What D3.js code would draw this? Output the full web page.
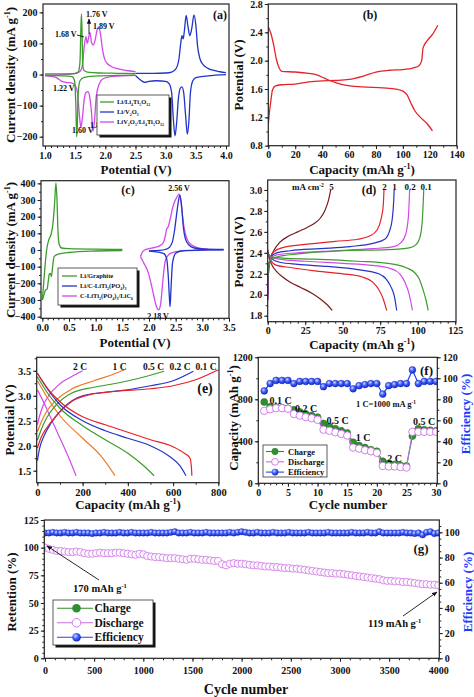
<!DOCTYPE html>
<html><head><meta charset="utf-8">
<script src="https://cdn.jsdelivr.net/npm/d3@7"></script>
<style>
body{margin:0;background:#fff}
text{font-family:'Liberation Serif','Times New Roman',serif;font-weight:bold;fill:#111}
</style></head>
<body><svg id="c" width="474" height="697"></svg>
<script>
// ---------------- DATA ----------------
// (a) CV curves [potential V, current mA/g]
const aGreenUp=[[1.0,2],[1.3,2],[1.5,3],[1.55,8],[1.58,40],[1.595,150],[1.605,195],[1.615,130],[1.625,40],[1.64,15],[1.7,8],[1.9,5],[2.2,4],[2.5,3]];
const aGreenDn=[[1.0,-3],[1.3,-4],[1.45,-7],[1.49,-20],[1.51,-90],[1.525,-200],[1.535,-170],[1.55,-60],[1.58,-20],[1.65,-9],[1.8,-5],[2.2,-3],[2.5,-2]];
const aMagUp=[[1.0,-2],[1.3,0],[1.5,4],[1.58,10],[1.62,30],[1.65,90],[1.68,122],[1.70,100],[1.72,115],[1.745,135],[1.77,104],[1.8,95],[1.83,110],[1.86,140],[1.89,153],[1.92,130],[1.95,85],[1.98,55],[2.02,38],[2.1,26],[2.2,19],[2.35,13],[2.5,9]];
const aMagDn=[[1.0,-4],[1.1,-6],[1.18,-9],[1.22,-14],[1.27,-21],[1.35,-25],[1.45,-28],[1.5,-35],[1.54,-60],[1.57,-130],[1.595,-170],[1.62,-140],[1.65,-80],[1.68,-58],[1.71,-55],[1.74,-70],[1.77,-120],[1.795,-182],[1.82,-150],[1.85,-70],[1.9,-30],[1.95,-15],[2.05,-8],[2.3,-4],[2.5,-3]];
const aBlueUp=[[2.5,4],[2.8,4],[3.0,5],[3.1,8],[3.17,18],[3.22,50],[3.25,100],[3.27,125],[3.29,115],[3.31,140],[3.34,190],[3.37,155],[3.40,125],[3.43,145],[3.47,192],[3.5,160],[3.53,90],[3.57,50],[3.62,32],[3.7,20],[3.8,13],[3.9,9],[4.0,6]];
const aBlueDn=[[2.5,-3],[2.55,-12],[2.6,-20],[2.65,-25],[2.72,-22],[2.85,-20],[3.0,-22],[3.06,-30],[3.1,-60],[3.13,-150],[3.155,-197],[3.18,-160],[3.21,-80],[3.24,-45],[3.27,-40],[3.3,-60],[3.33,-130],[3.36,-192],[3.385,-150],[3.41,-60],[3.45,-20],[3.5,-10],[3.7,-4],[4.0,0]];
const aXTicks=[1.0,1.5,2.0,2.5,3.0,3.5,4.0], aYTicks=[-200,-100,0,100,200];
// (b) charge/discharge [capacity, potential]
const bDis=[[0,2.48],[2,2.38],[4,2.22],[6,2.02],[8,1.9],[10,1.85],[20,1.84],[30,1.82],[36,1.8],[42,1.75],[50,1.69],[58,1.65],[70,1.63],[85,1.615],[95,1.6],[100,1.57],[103,1.52],[106,1.4],[109,1.29],[113,1.2],[118,1.11],[122,1.01]];
const bCh=[[0,1.1],[1,1.3],[2,1.45],[3,1.58],[5,1.64],[10,1.66],[20,1.67],[30,1.7],[40,1.715],[50,1.72],[60,1.735],[70,1.78],[80,1.84],[90,1.865],[100,1.875],[108,1.9],[112,1.93],[114,2.0],[115,2.18],[118,2.28],[122,2.37],[126,2.5]];
const bXTicks=[0,20,40,60,80,100,120,140], bYTicks=[0.8,1.2,1.6,2.0,2.4,2.8];
// (c) CV curves
const cGreenUp=[[0.0,-300],[0.02,-220],[0.05,-100],[0.08,0],[0.12,60],[0.16,90],[0.2,160],[0.23,280],[0.255,403],[0.275,300],[0.295,100],[0.32,30],[0.36,12],[0.5,8],[1.0,5],[1.5,4]];
const cGreenDn=[[0.0,-300],[0.03,-270],[0.06,-240],[0.09,-235],[0.11,-190],[0.13,-145],[0.15,-140],[0.17,-160],[0.19,-110],[0.22,-40],[0.3,-25],[0.5,-15],[1.0,-6],[1.5,-3]];
const cBlueUp=[[2.0,-5],[2.2,-2],[2.3,3],[2.38,15],[2.44,50],[2.48,120],[2.52,220],[2.555,300],[2.58,330],[2.61,270],[2.64,150],[2.68,70],[2.75,30],[2.85,12],[3.0,6],[3.4,3]];
const cBlueDn=[[2.0,-6],[2.1,-10],[2.2,-14],[2.28,-22],[2.33,-50],[2.36,-150],[2.385,-300],[2.395,-340],[2.41,-250],[2.44,-80],[2.5,-20],[2.6,-6],[2.8,-2],[3.0,0],[3.4,1]];
const cMagUp=[[1.84,-40],[1.87,-15],[1.92,0],[2.0,8],[2.1,15],[2.2,25],[2.27,45],[2.31,90],[2.33,125],[2.36,140],[2.4,190],[2.44,250],[2.48,290],[2.52,315],[2.56,336],[2.59,310],[2.62,230],[2.66,130],[2.72,60],[2.8,30],[2.9,15],[3.0,8],[3.1,5]];
const cMagDn=[[1.84,-40],[1.88,-65],[1.93,-95],[1.98,-130],[2.03,-190],[2.08,-260],[2.13,-330],[2.18,-360],[2.22,-320],[2.25,-220],[2.28,-120],[2.31,-60],[2.35,-35],[2.4,-20],[2.5,-10],[2.7,-4],[3.0,0],[3.1,2]];
const cXTicks=[0.0,0.5,1.0,1.5,2.0,2.5,3.0,3.5], cYTicks=[-400,-300,-200,-100,0,100,200,300,400];
// (d) rate curves [capacity, potential]
const dRates=["5","2","1","0.2","0.1"];
const d5Ch=[[0,2.0],[0.5,2.2],[1.5,2.33],[4,2.42],[8,2.5],[14,2.56],[20,2.6],[26,2.64],[31,2.68],[35,2.73],[38,2.8],[40.5,2.9],[42,3.0]];
const d5Dis=[[0,2.43],[1,2.35],[3,2.28],[6,2.22],[10,2.17],[15,2.12],[22,2.07],[30,2.01],[36,1.95],[40,1.9],[43,1.85]];
const d2Ch=[[0,1.95],[0.5,2.2],[1.5,2.33],[4,2.41],[10,2.45],[25,2.48],[45,2.51],[60,2.53],[68,2.56],[73,2.62],[75.5,2.72],[77,2.85],[77.5,3.0]];
const d2Dis=[[0,2.4],[2,2.33],[6,2.28],[15,2.26],[30,2.23],[50,2.2],[63,2.17],[70,2.12],[74,2.05],[77,1.96],[79.3,1.85]];
const d1Ch=[[0,1.95],[0.5,2.25],[2,2.36],[6,2.4],[15,2.42],[35,2.44],[55,2.46],[70,2.49],[78,2.53],[81,2.6],[83,2.72],[84,2.9],[84.3,3.0]];
const d1Dis=[[0,2.4],[2,2.35],[8,2.31],[20,2.29],[40,2.27],[60,2.24],[74,2.2],[79,2.15],[82,2.08],[84.5,1.98],[86,1.85]];
const d02Ch=[[0,2.0],[0.5,2.25],[2,2.35],[6,2.38],[20,2.4],[45,2.42],[70,2.44],[84,2.46],[89,2.5],[92,2.58],[93.8,2.75],[94.6,3.0]];
const d02Dis=[[0,2.4],[2,2.36],[8,2.34],[25,2.32],[50,2.3],[70,2.28],[82,2.25],[88,2.2],[91.5,2.12],[94,2.02],[96.5,1.85]];
const d01Ch=[[0,2.1],[0.5,2.28],[2,2.33],[6,2.36],[20,2.39],[50,2.42],[80,2.43],[95,2.45],[99,2.48],[101.5,2.55],[103,2.7],[104,3.0]];
const d01Dis=[[0,2.4],[3,2.36],[10,2.35],[30,2.34],[60,2.32],[80,2.3],[92,2.26],[98,2.21],[101,2.15],[103.5,2.05],[105.5,1.95],[107,1.85]];
const dXTicks=[0,25,50,75,100,125], dYTicks=[1.8,2.0,2.2,2.4,2.6,2.8,3.0];
// (e) rate curves
const eRates=["2 C","1 C","0.5 C","0.2 C","0.1 C"];
const e2Ch=[[0,2.42],[10,2.6],[25,2.8],[50,3.0],[100,3.24],[150,3.38],[200,3.5]];
const e2Dis=[[0,3.12],[30,2.85],[60,2.55],[100,2.15],[135,1.8],[171,1.4]];
const e1Ch=[[0,2.28],[15,2.45],[40,2.68],[80,2.9],[150,3.13],[250,3.3],[330,3.42],[385,3.52]];
const e1Dis=[[0,3.3],[50,2.92],[100,2.6],[200,2.15],[280,1.8],[343,1.4]];
const e05Ch=[[0,2.11],[15,2.3],[40,2.55],[80,2.8],[150,3.05],[250,3.17],[350,3.25],[450,3.35],[560,3.49]];
const e05Dis=[[0,3.38],[50,3.02],[100,2.75],[200,2.4],[300,2.12],[400,1.85],[470,1.6],[516,1.4]];
const e02Ch=[[0,1.7],[10,1.95],[30,2.2],[60,2.45],[120,2.78],[200,3.0],[300,3.07],[400,3.12],[500,3.2],[600,3.3],[690,3.49]];
const e02Dis=[[0,3.45],[50,3.1],[100,2.82],[200,2.5],[300,2.3],[400,2.15],[500,2.0],[580,1.8],[630,1.6],[657,1.4]];
const e01Ch=[[0,1.95],[15,2.15],[40,2.35],[80,2.58],[150,2.88],[250,3.04],[350,3.09],[500,3.14],[600,3.2],[700,3.32],[800,3.52]];
const e01Dis=[[0,3.45],[50,3.12],[100,2.88],[200,2.58],[300,2.42],[400,2.27],[500,2.12],[600,1.98],[650,1.85],[675,1.75],[680,1.62],[682,1.5],[683,1.4]];
const eXTicks=[0,200,400,600,800], eYTicks=[1.5,2.0,2.5,3.0,3.5];
// (f) rate capability
const fCycle=[1,2,3,4,5,6,7,8,9,10,11,12,13,14,15,16,17,18,19,20,21,22,23,24,25,26,27,28,29,30];
const fCharge=[775,730,725,720,715,700,680,660,645,630,570,540,520,500,480,390,360,340,320,305,210,190,180,170,165,450,520,510,505,500];
const fDischarge=[690,705,715,715,710,660,645,630,620,605,510,500,485,470,455,340,330,315,305,290,165,160,160,155,150,490,490,490,490,490];
const fEff=[88,95,98,98,98,95,97,97,97,97,92,95,95,95,95,90,93,94,95,95,85,93,94,95,95,108,95,97,97,97];
const fXTicks=[0,5,10,15,20,25,30], fYTicks=[0,400,800,1200], fY2Ticks=[0,20,40,60,80,100,120];
// (g) long cycling
const gCycle=[0,40,80,120,160,200,240,280,320,360,400,440,480,520,560,600,640,680,720,760,800,840,880,920,960,1000,1040,1080,1120,1160,1200,1240,1280,1320,1360,1400,1440,1480,1520,1560,1600,1640,1680,1720,1760,1800,1840,1880,1920,1960,2000,2040,2080,2120,2160,2200,2240,2280,2320,2360,2400,2440,2480,2520,2560,2600,2640,2680,2720,2760,2800,2840,2880,2920,2960,3000,3040,3080,3120,3160,3200,3240,3280,3320,3360,3400,3440,3480,3520,3560,3600,3640,3680,3720,3760,3800,3840,3880,3920,3960,4000];
const gRetention=[100,99,98,97,97,96.5,96,96,96.5,96,95,94.5,94.5,95,95.5,95,95,95,95.5,95.5,95,94.5,94,93.5,94.5,94,92.5,92,91.5,91.5,91,90.5,90.5,90.5,90,89.5,89,90,90,89.5,89,89,88.5,88,88,85,84,85.5,86,85.5,85.5,85,84.5,84,84,83.5,83,83,82.5,82.5,82,81.5,81.5,81,81,80.5,80,79.5,79,78.5,78,77.5,77,77,76.5,76.5,76,75.5,75,74.5,74,73.5,73,72.5,72,71.5,70.5,70,70,69.5,69.5,69,69,68.5,68,67.5,67,67,66.5,66.5,66];
const gEff=[99.5,99.5,100,99.5,99.5,100,99.5,99.5,100,99.5,99.5,99.5,99,99.5,99.5,100,99.5,99.5,99.5,100,99.5,99.5,100,99.5,99.5,99.5,99.5,100,99.5,99.5,99.5,99.5,100,100.5,99.5,99.5,99.5,100,99.5,99.5,99.5,100,99.5,99.5,99.5,99.5,99.5,100,99.5,100,100.5,100,99.5,99.5,100,99.5,99.5,99.5,100,99.5,99.5,99.5,100,99.5,99.5,99.5,99.5,100,99.5,99.5,99.5,99.5,100,99.5,99.5,99.5,99.5,99.5,100,99.5,99.5,99.5,100,99.5,99.5,100.5,99.5,99.5,99.5,99.5,99.5,100,99.5,99.5,99,99.5,98,100,100.5,99,99.5];
const gXTicks=[0,500,1000,1500,2000,2500,3000,3500,4000], gYTicks=[0,25,50,75,100,125], gY2Ticks=[0,20,40,60,80,100];

// ---------------- COLOURS ----------------
const GREEN='#3c9c2c', BLUE='#2234c8', MAG='#d348ea', RED='#e5222a', DRED='#7a1c1c', ORANGE='#f07a22';

// ---------------- HELPERS ----------------
const svg=d3.select('#c');
const defs=svg.append('defs');
const rg=defs.append('radialGradient').attr('id','effG').attr('cx','38%').attr('cy','35%').attr('r','65%');
rg.append('stop').attr('offset','0%').attr('stop-color','#d0dcff');
rg.append('stop').attr('offset','45%').attr('stop-color','#4a66ff');
rg.append('stop').attr('offset','100%').attr('stop-color','#1126c0');
defs.append('marker').attr('id','arr').attr('viewBox','0 0 10 10').attr('refX',9).attr('refY',5)
  .attr('markerWidth',6).attr('markerHeight',6).attr('orient','auto-start-reverse')
  .append('path').attr('d','M0,1L10,5L0,9z').attr('fill','#111');

function rich(t,parts,fs){
  let shift=0;
  parts.forEach(p=>{
    const [s,k]=Array.isArray(p)?p:[p,null];
    const target=k==='sup'?-0.38*fs:k==='sub'?0.28*fs:0;
    const ts=t.append('tspan').text(s).attr('dy',target-shift);
    if(k) ts.attr('font-size',fs*0.62);
    shift=target;
  });
  return t;
}
function label(x,y,parts,fs,opt={}){
  const t=svg.append('text').attr('font-size',fs).attr('text-anchor',opt.anchor||'start');
  if(opt.rot) t.attr('transform',`translate(${x},${y}) rotate(-90)`); else t.attr('x',x).attr('y',y);
  if(opt.fill) t.style('fill',opt.fill);
  rich(t,parts,fs);
  if(opt.fill) t.selectAll('tspan').style('fill',opt.fill);
  return t;
}
function axis(g,orient,scale,major,minor,fmt,pos,fs,pad){
  const A={bottom:d3.axisBottom,left:d3.axisLeft,right:d3.axisRight}[orient];
  const tr=orient==='bottom'?`translate(0,${pos})`:`translate(${pos},0)`;
  if(minor){const m=g.append('g').attr('transform',tr).call(A(scale).tickValues(minor).tickSize(2).tickFormat(''));
    m.select('.domain').remove(); m.selectAll('line').attr('stroke','#222');}
  const a=g.append('g').attr('transform',tr).call(A(scale).tickValues(major).tickSize(3.5).tickPadding(pad||2).tickFormat(fmt));
  a.select('.domain').remove();
  a.attr('font-family',null).attr('font-size',null);
  a.selectAll('text').attr('font-size',fs);
  a.selectAll('line').attr('stroke','#222');
}
function minorTicks(d,step){const r=[];for(let v=Math.ceil(d[0]/step-1e-9)*step;v<=d[1]+1e-9;v+=step)r.push(+v.toFixed(6));return r;}
let clipN=0;
function panel(o){
  const x=d3.scaleLinear().domain(o.xd).range([o.l,o.r]);
  const y=d3.scaleLinear().domain(o.yd).range([o.b,o.t]);
  const g=svg.append('g');
  const id='cl'+(clipN++);
  defs.append('clipPath').attr('id',id).append('rect').attr('x',o.l).attr('y',o.t).attr('width',o.r-o.l).attr('height',o.b-o.t);
  const fs=o.fs||10;
  axis(g,'bottom',x,o.xt,minorTicks(o.xd,o.xm),o.fx,o.b,fs,o.xpad);
  axis(g,'left',y,o.yt,minorTicks(o.yd,o.ym),o.fy,o.l,fs);
  let y2=null;
  if(o.y2d){y2=d3.scaleLinear().domain(o.y2d).range([o.b,o.t]);axis(g,'right',y2,o.y2t,minorTicks(o.y2d,o.y2m),d3.format('d'),o.r,fs);}
  const plot=g.append('g').attr('clip-path',`url(#${id})`);
  const finish=()=>g.append('rect').attr('x',o.l).attr('y',o.t).attr('width',o.r-o.l).attr('height',o.b-o.t)
     .attr('fill','none').attr('stroke','#222').attr('stroke-width',1.2);
  return {x,y,y2,g,plot,finish};
}
function curve(P,data,color,w=1.3,sc){
  const l=d3.line().x(d=>P.x(d[0])).y(d=>(sc||P.y)(d[1])).curve(d3.curveMonotoneX);
  P.plot.append('path').attr('d',l(data)).attr('fill','none').attr('stroke',color).attr('stroke-width',w).attr('stroke-linejoin','round');
}
function legendBox(x0,y0,x1,y1,shadow){
  if(shadow) svg.append('rect').attr('x',x0+2.5).attr('y',y0+2.5).attr('width',x1-x0).attr('height',y1-y0).attr('fill','#111');
  svg.append('rect').attr('x',x0).attr('y',y0).attr('width',x1-x0).attr('height',y1-y0).attr('fill','#fff').attr('stroke','#333').attr('stroke-width',0.8);
}
const f1=d3.format('.1f'), fd=d3.format('d');

// ---------------- (a) ----------------
const A=panel({l:43,r:229,t:4,b:146,xd:[0.967,4.05],yd:[-230,227],xt:aXTicks,xm:0.1,yt:aYTicks,ym:50,fx:f1,fy:fd});
curve(A,aBlueUp,BLUE);curve(A,aBlueDn,BLUE);
curve(A,aMagUp,MAG);curve(A,aMagDn,MAG);
curve(A,aGreenUp,GREEN);curve(A,aGreenDn,GREEN);
A.finish();
label(15,75,['Current density (mA g',['-1','sup'],')'],13,{rot:true,anchor:'middle'});
label(136,174,['Potential (V)'],13,{anchor:'middle'});
label(220,19,['(a)'],12,{anchor:'middle'});
label(86,17,['1.76 V'],8);
svg.append('line').attr('x1',89).attr('y1',34).attr('x2',89).attr('y2',19).attr('stroke','#111').attr('stroke-width',0.9).attr('marker-end','url(#arr)');
label(93,29,['1.89 V'],8);
label(55,37,['1.68 V'],8);
svg.append('line').attr('x1',77).attr('y1',35).attr('x2',84).attr('y2',37).attr('stroke','#111').attr('stroke-width',0.9);
label(53,91,['1.22 V'],8);
label(72,133,['1.60 V'],8);
label(90,128,['1.81 V'],8);
legendBox(97,95,169,135,true);
[[GREEN,['Li/Li',['4','sub'],'Ti',['5','sub'],'O',['12','sub']]],[BLUE,['Li/V',['2','sub'],'O',['5','sub']]],[MAG,['LiV',['2','sub'],'O',['5','sub'],'/Li',['4','sub'],'Ti',['5','sub'],'O',['12','sub']]]]
 .forEach((e,i)=>{const yy=102+i*10;svg.append('line').attr('x1',100).attr('x2',114).attr('y1',yy).attr('y2',yy).attr('stroke',e[0]).attr('stroke-width',1.3);
  label(117,yy+2.3,e[1],6.5);});

// ---------------- (b) ----------------
const B=panel({l:268.3,r:456.7,t:4,b:145.7,xd:[0,140],yd:[0.8,2.8],xt:bXTicks,xm:10,yt:bYTicks,ym:0.2,fx:fd,fy:f1});
curve(B,bDis,RED);curve(B,bCh,RED);
B.finish();
label(242.5,75,['Potential (V)'],13,{rot:true,anchor:'middle'});
label(362,174,['Capacity (mAh g',['-1','sup'],')'],13,{anchor:'middle'});
label(370,19,['(b)'],12,{anchor:'middle'});

// ---------------- (c) ----------------
const C=panel({l:41,r:229,t:180.7,b:318.3,xd:[-0.025,3.5],yd:[-410,416],xt:cXTicks,xm:0.1,yt:cYTicks,ym:50,fx:f1,fy:fd});
curve(C,cGreenUp,GREEN);curve(C,cGreenDn,GREEN);
curve(C,cMagUp,MAG);curve(C,cMagDn,MAG);
curve(C,cBlueUp,BLUE);curve(C,cBlueDn,BLUE);
C.finish();
label(15,250,['Current density (mA g',['-1','sup'],')'],13,{rot:true,anchor:'middle'});
label(135,347,['Potential (V)'],13,{anchor:'middle'});
label(128,194,['(c)'],12,{anchor:'middle'});
label(179,191,['2.56 V'],8,{anchor:'middle'});
label(158,318.5,['2.18 V'],8,{anchor:'middle'});
legendBox(58,268,137,305,true);
[[GREEN,['Li/Graphite']],[BLUE,['Li/C-LiTi',['2','sub'],'(PO',['4','sub'],')',['3','sub']]],[MAG,['C-LiTi',['2','sub'],'(PO',['4','sub'],')',['3','sub'],'/LiC',['6','sub']]]]
 .forEach((e,i)=>{const yy=276+i*10;svg.append('line').attr('x1',62).attr('x2',77).attr('y1',yy).attr('y2',yy).attr('stroke',e[0]).attr('stroke-width',1.3);
  label(80,yy+2.3,e[1],6.5);});

// ---------------- (d) ----------------
const D=panel({l:267.7,r:456,t:180,b:321.7,xd:[0,125.5],yd:[1.743,3.095],xt:dXTicks,xm:5,yt:dYTicks,ym:0.1,fx:fd,fy:f1});
[[d5Ch,d5Dis,DRED],[d2Ch,d2Dis,RED],[d1Ch,d1Dis,BLUE],[d02Ch,d02Dis,MAG],[d01Ch,d01Dis,GREEN]].forEach(s=>{curve(D,s[0],s[2],1.2);curve(D,s[1],s[2],1.2);});
D.finish();
label(242.5,252,['Potential (V)'],13,{rot:true,anchor:'middle'});
label(362,349,['Capacity (mAh g',['-1','sup'],')'],13,{anchor:'middle'});
label(369,194,['(d)'],12,{anchor:'middle'});
label(292,190,['mA cm',['-2','sup']],9);
[[331.5,dRates[0]],[384.5,dRates[1]],[394.5,dRates[2]],[410,dRates[3]],[426,dRates[4]]].forEach(p=>label(p[0],190,[p[1]],9,{anchor:'middle'}));

// ---------------- (e) ----------------
const E=panel({l:36.7,r:219,t:357.3,b:482.7,xd:[-3,803],yd:[1.26,3.77],xt:eXTicks,xm:100,yt:eYTicks,ym:0.25,fx:fd,fy:f1,fs:10.5});
[[e2Ch,e2Dis,MAG],[e1Ch,e1Dis,ORANGE],[e05Ch,e05Dis,GREEN],[e02Ch,e02Dis,BLUE],[e01Ch,e01Dis,RED]].forEach(s=>{curve(E,s[0],s[2],1.2);curve(E,s[1],s[2],1.2);});
E.finish();
label(14,420,['Potential (V)'],13,{rot:true,anchor:'middle'});
label(128,509,['Capacity (mAh g',['-1','sup'],')'],13,{anchor:'middle'});
label(205,393,['(e)'],14,{anchor:'middle'});
[[80,eRates[0]],[119.5,eRates[1]],[153.5,eRates[2]],[180,eRates[3]],[206,eRates[4]]].forEach(p=>label(p[0],370,[p[1]],9.5,{anchor:'middle'}));

// ---------------- (f) ----------------
const F=panel({l:258.3,r:437.3,t:357.3,b:483.3,xd:[0,30.2],yd:[0,1200],xt:fXTicks,xm:1,yt:fYTicks,ym:200,fx:fd,fy:fd,y2d:[0,120],y2t:fY2Ticks,y2m:10});
const fl=(sc,vals)=>d3.line().x((d,i)=>F.x(fCycle[i])).y(d=>sc(d))(vals);
F.plot.append('path').attr('d',fl(F.y2,fEff)).attr('fill','none').attr('stroke','#2244ee').attr('stroke-width',1.2);
F.plot.selectAll('.fe').data(fEff).enter().append('circle').attr('cx',(d,i)=>F.x(fCycle[i])).attr('cy',d=>F.y2(d)).attr('r',3.4).attr('fill','url(#effG)').attr('stroke','#1428c0').attr('stroke-width',0.5);
F.plot.append('path').attr('d',fl(F.y,fCharge)).attr('fill','none').attr('stroke','#2f8a2f').attr('stroke-width',1.1);
F.plot.selectAll('.fc').data(fCharge).enter().append('circle').attr('cx',(d,i)=>F.x(fCycle[i])).attr('cy',d=>F.y(d)).attr('r',3.5).attr('fill','#2f8f2f').attr('stroke','#1f6a1f').attr('stroke-width',0.5);
F.plot.append('path').attr('d',fl(F.y,fDischarge)).attr('fill','none').attr('stroke','#c070e0').attr('stroke-width',1.1);
F.plot.selectAll('.fd').data(fDischarge).enter().append('circle').attr('cx',(d,i)=>F.x(fCycle[i])).attr('cy',d=>F.y(d)).attr('r',3.7).attr('fill','#fff').attr('stroke','#cc6fe6').attr('stroke-width',0.9);
F.finish();
label(237.5,418,['Capacity (mAh g',['-1','sup'],')'],13,{rot:true,anchor:'middle'});
label(469.5,414,['Efficiency (%)'],13,{rot:true,anchor:'middle',fill:'#1a3cff'});
label(348,509,['Cycle number'],13,{anchor:'middle'});
label(426.5,375,['(f)'],13,{anchor:'middle'});
[[280.5,403.5,'0.1 C'],[306,411.5,'0.2 C'],[337.5,423.5,'0.5 C'],[363,440.5,'1 C'],[394.5,461.5,'2 C'],[424,425,'0.5 C']].forEach(p=>label(p[0],p[1],[p[2]],10,{anchor:'middle'}));
label(356,407,['1 C=1000 mA g',['-1','sup']],8.5);
legendBox(263,445,327,477,false);
[['ch','Charge'],['dis','Discharge'],['eff','Efficiency']].forEach((e,i)=>{
  const yy=451.5+i*10.3;
  const c=e[0]==='ch'?'#2f8a2f':e[0]==='dis'?'#c070e0':'#2244ee';
  svg.append('line').attr('x1',266).attr('x2',284).attr('y1',yy).attr('y2',yy).attr('stroke',c).attr('stroke-width',1.1);
  const ci=svg.append('circle').attr('cx',275).attr('cy',yy).attr('r',3.4);
  if(e[0]==='ch') ci.attr('fill','#2f8f2f'); else if(e[0]==='dis') ci.attr('fill','#fff').attr('stroke','#cc6fe6').attr('stroke-width',0.9); else ci.attr('fill','url(#effG)');
  label(288,yy+3,[e[1]],8.5);
});

// ---------------- (g) ----------------
const G=panel({l:44.3,r:439.3,t:520,b:658.3,xd:[-7,4010],yd:[0,125],xt:gXTicks,xm:100,yt:gYTicks,ym:5,fx:fd,fy:fd,y2d:[0,109.8],y2t:gY2Ticks,y2m:5,xpad:5});
G.plot.append('path').attr('d',d3.line().x((d,i)=>G.x(gCycle[i])).y(d=>G.y2(d))(gEff)).attr('fill','none').attr('stroke','#2244ee').attr('stroke-width',1);
G.plot.selectAll('.ge').data(gEff).enter().append('circle').attr('cx',(d,i)=>G.x(gCycle[i])).attr('cy',d=>G.y2(d)).attr('r',3.2).attr('fill','url(#effG)').attr('stroke','#1428c0').attr('stroke-width',0.4);
G.plot.selectAll('.gr').data(gRetention).enter().append('circle').attr('cx',(d,i)=>G.x(gCycle[i])).attr('cy',d=>G.y(d)).attr('r',3.6).attr('fill','#fff').attr('fill-opacity',0.85).attr('stroke','#d27ee8').attr('stroke-width',0.9);
G.finish();
label(16,592,['Retention (%)'],13,{rot:true,anchor:'middle'});
label(471.5,592,['Efficiency (%)'],13,{rot:true,anchor:'middle',fill:'#1a3cff'});
label(246,694,['Cycle number'],14,{anchor:'middle'});
label(421,553,['(g)'],13,{anchor:'middle'});
label(73,592,['170 mAh g',['-1','sup']],10.5);
svg.append('line').attr('x1',99).attr('y1',580).attr('x2',47).attr('y2',546).attr('stroke','#111').attr('stroke-width',0.9).attr('marker-end','url(#arr)');
label(368,627,['119 mAh g',['-1','sup']],10.5);
svg.append('line').attr('x1',403).attr('y1',616).attr('x2',437).attr('y2',592).attr('stroke','#111').attr('stroke-width',0.9).attr('marker-end','url(#arr)');
legendBox(53,600,153,645,true);
[['ch','Charge'],['dis','Discharge'],['eff','Efficiency']].forEach((e,i)=>{
  const yy=608.3+i*14.5;
  const c=e[0]==='ch'?'#2f8a2f':e[0]==='dis'?'#c070e0':'#2244ee';
  svg.append('line').attr('x1',57).attr('x2',93).attr('y1',yy).attr('y2',yy).attr('stroke',c).attr('stroke-width',1.1);
  const ci=svg.append('circle').attr('cx',76.5).attr('cy',yy).attr('r',4.3);
  if(e[0]==='ch') ci.attr('fill','#2f8f2f'); else if(e[0]==='dis') ci.attr('fill','#fff').attr('stroke','#cc6fe6').attr('stroke-width',0.9); else ci.attr('fill','url(#effG)');
  label(94.5,yy+4,[e[1]],11.5);
});
</script></body></html>
